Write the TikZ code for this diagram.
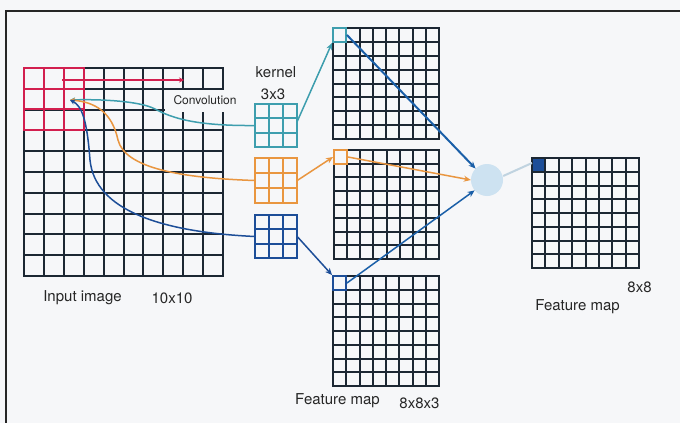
\documentclass[tikz,border=0pt]{standalone}
\usepackage{fontspec}
\setmainfont{TeX Gyre Heros}
\usetikzlibrary{arrows.meta}
\definecolor{gridc}{HTML}{1C2733}
\definecolor{redc}{HTML}{D21F4F}
\definecolor{tealc}{HTML}{3E9EAE}
\definecolor{orangec}{HTML}{E99640}
\definecolor{bluec}{HTML}{1D4E98}
\definecolor{arrowblue}{HTML}{1A5FA8}
\definecolor{circc}{HTML}{CDE2F1}
\definecolor{linkc}{HTML}{C0D3E0}
\definecolor{bgc}{HTML}{F6F7F9}
\newcommand{\mygrid}[7]{%
  \foreach \i in {0,...,#5} \draw[#7] ({round(#1+(#3-#1)*\i/#5)},#2) -- ({round(#1+(#3-#1)*\i/#5)},#4);
  \foreach \j in {0,...,#6} \draw[#7] (#1,{round(#2+(#4-#2)*\j/#6)}) -- (#3,{round(#2+(#4-#2)*\j/#6)});
}
\tikzset{
  gl/.style={draw=gridc, line width=1.5pt, line cap=rect},
  box/.style={rectangle, inner sep=0pt, draw=none},
  lbl/.style={font=\fontsize{15}{17}\selectfont, text=black!85, inner sep=1pt},
  tip/.style={-{Stealth[length=7pt,width=6pt]}},
  smalltip/.style={-{Stealth[length=5pt,width=5pt]}},
}
\begin{document}
\begin{tikzpicture}[x=1pt,y=-1pt]
\fill[bgc] (0,0) rectangle (680,423);
\useasboundingbox (0,0) rectangle (680,423);
% frame
\draw[line width=1.8pt, black!85] (680,11) -- (6,11) -- (6,423);

% input image grid
\node[box, minimum width=199pt, minimum height=208pt] (inp) at (123.5,172) {};
\mygrid{24}{68}{223}{276}{10}{10}{gl}
% red 3x3 window
\mygrid{24}{68}{84}{130}{3}{3}{draw=redc, line width=1.7pt, line cap=rect}
\coordinate (src) at (70,100);
\coordinate (rstart) at (62,80);
\coordinate (rend) at (184,80);
\draw[redc, line width=1.2pt, smalltip] (rstart) -- (rend);
% Convolution label
\node[fill=bgc, inner sep=2pt, minimum width=80pt, minimum height=22pt, font=\fontsize{12}{14}\selectfont, text=black!85] (conv) at (205,100.5) {\raisebox{-4pt}{Convolution}};

% kernels
\node[box, minimum width=42pt, minimum height=43pt] (kt) at (276,125.5) {};
\mygrid{255}{104}{297}{147}{3}{3}{draw=tealc, line width=1.7pt, line cap=rect}
\node[box, minimum width=42pt, minimum height=45pt] (ko) at (276,180.5) {};
\mygrid{255}{158}{297}{203}{3}{3}{draw=orangec, line width=1.7pt, line cap=rect}
\node[box, minimum width=42pt, minimum height=43pt] (kb) at (276,236.5) {};
\mygrid{255}{215}{297}{258}{3}{3}{draw=bluec, line width=1.7pt, line cap=rect}
\node[lbl] (kname) at (276,72) {kernel};
\node[lbl] (ksize) at (273,94) {3x3};

% feature maps 8x8x3
\node[box, minimum width=106pt, minimum height=111pt] (fa) at (386,83.5) {};
\mygrid{333}{28}{439}{139}{8}{8}{gl}
\node[box, minimum width=105pt, minimum height=109pt] (fb) at (386.5,204.5) {};
\mygrid{334}{150}{439}{259}{8}{8}{gl}
\node[box, minimum width=106pt, minimum height=110pt] (fc) at (386,331) {};
\mygrid{333}{276}{439}{386}{8}{8}{gl}
% highlighted cells
\node[box, draw=tealc, line width=1.9pt, minimum width=13pt, minimum height=14pt] (ca) at (339.5,35) {};
\node[box, draw=orangec, line width=1.9pt, minimum width=13pt, minimum height=14pt] (cb) at (340.5,157) {};
\node[box, draw=bluec, line width=1.9pt, minimum width=13pt, minimum height=14pt] (cc) at (339.5,283) {};

% final feature map
\node[box, minimum width=107pt, minimum height=110pt] (ff) at (585.5,213) {};
\fill[bluec] (532,158) rectangle (545,172);
\mygrid{532}{158}{639}{268}{8}{8}{gl}
\coordinate (fcell) at (532,163);

% sum circle
\node[circle, fill=circc, minimum size=32pt, inner sep=0pt] (sum) at (487,180) {};

% labels
\node[lbl] (inlbl) at (82.5,298) {Input image};
\node[lbl] (insz) at (172,298) {10x10};
\node[lbl] (fmlbl) at (337.5,401) {Feature map};
\node[lbl] (fmsz) at (419.5,403) {8x8x3};
\node[lbl] (ffsz) at (639.5,287) {8x8};
\node[lbl] (fflbl) at (577.5,307) {Feature map};

% curves from kernels back to the input window
\draw[tealc, line width=1.5pt, smalltip] (kt.west) .. controls (195,126) and (172,118) .. (155,109) .. controls (140,101) and (100,99) .. (src);
\draw[orangec, line width=1.5pt, smalltip] (ko.west) .. controls (180,178) and (125,168) .. (118,140) .. controls (112,112) and (95,102) .. (src);
\draw[bluec, line width=1.5pt, smalltip] (kb.west) .. controls (160,232) and (95,210) .. (90,160) .. controls (87,120) and (82,106) .. (src);

% kernels to feature map cells
\draw[tealc, line width=1.5pt, tip] (kt.east) ++(0,-4) -- (ca.south west);
\draw[orangec, line width=1.5pt, tip] (ko.east) -- (cb.west);
\draw[bluec, line width=1.5pt, tip] (kb.east) -- (cc.north west);

% feature map cells to sum
\draw[arrowblue, line width=2pt, tip] (ca.east) -- (sum.135);
\draw[orangec, line width=1.5pt, tip] (cb.east) -- (sum.west);
\draw[arrowblue, line width=1.5pt, tip] (cc.east) -- (sum.220);

% sum to output cell
\draw[linkc, line width=2pt] (sum.east) ++(0,-4) -- (fcell);
\end{tikzpicture}
\end{document}
